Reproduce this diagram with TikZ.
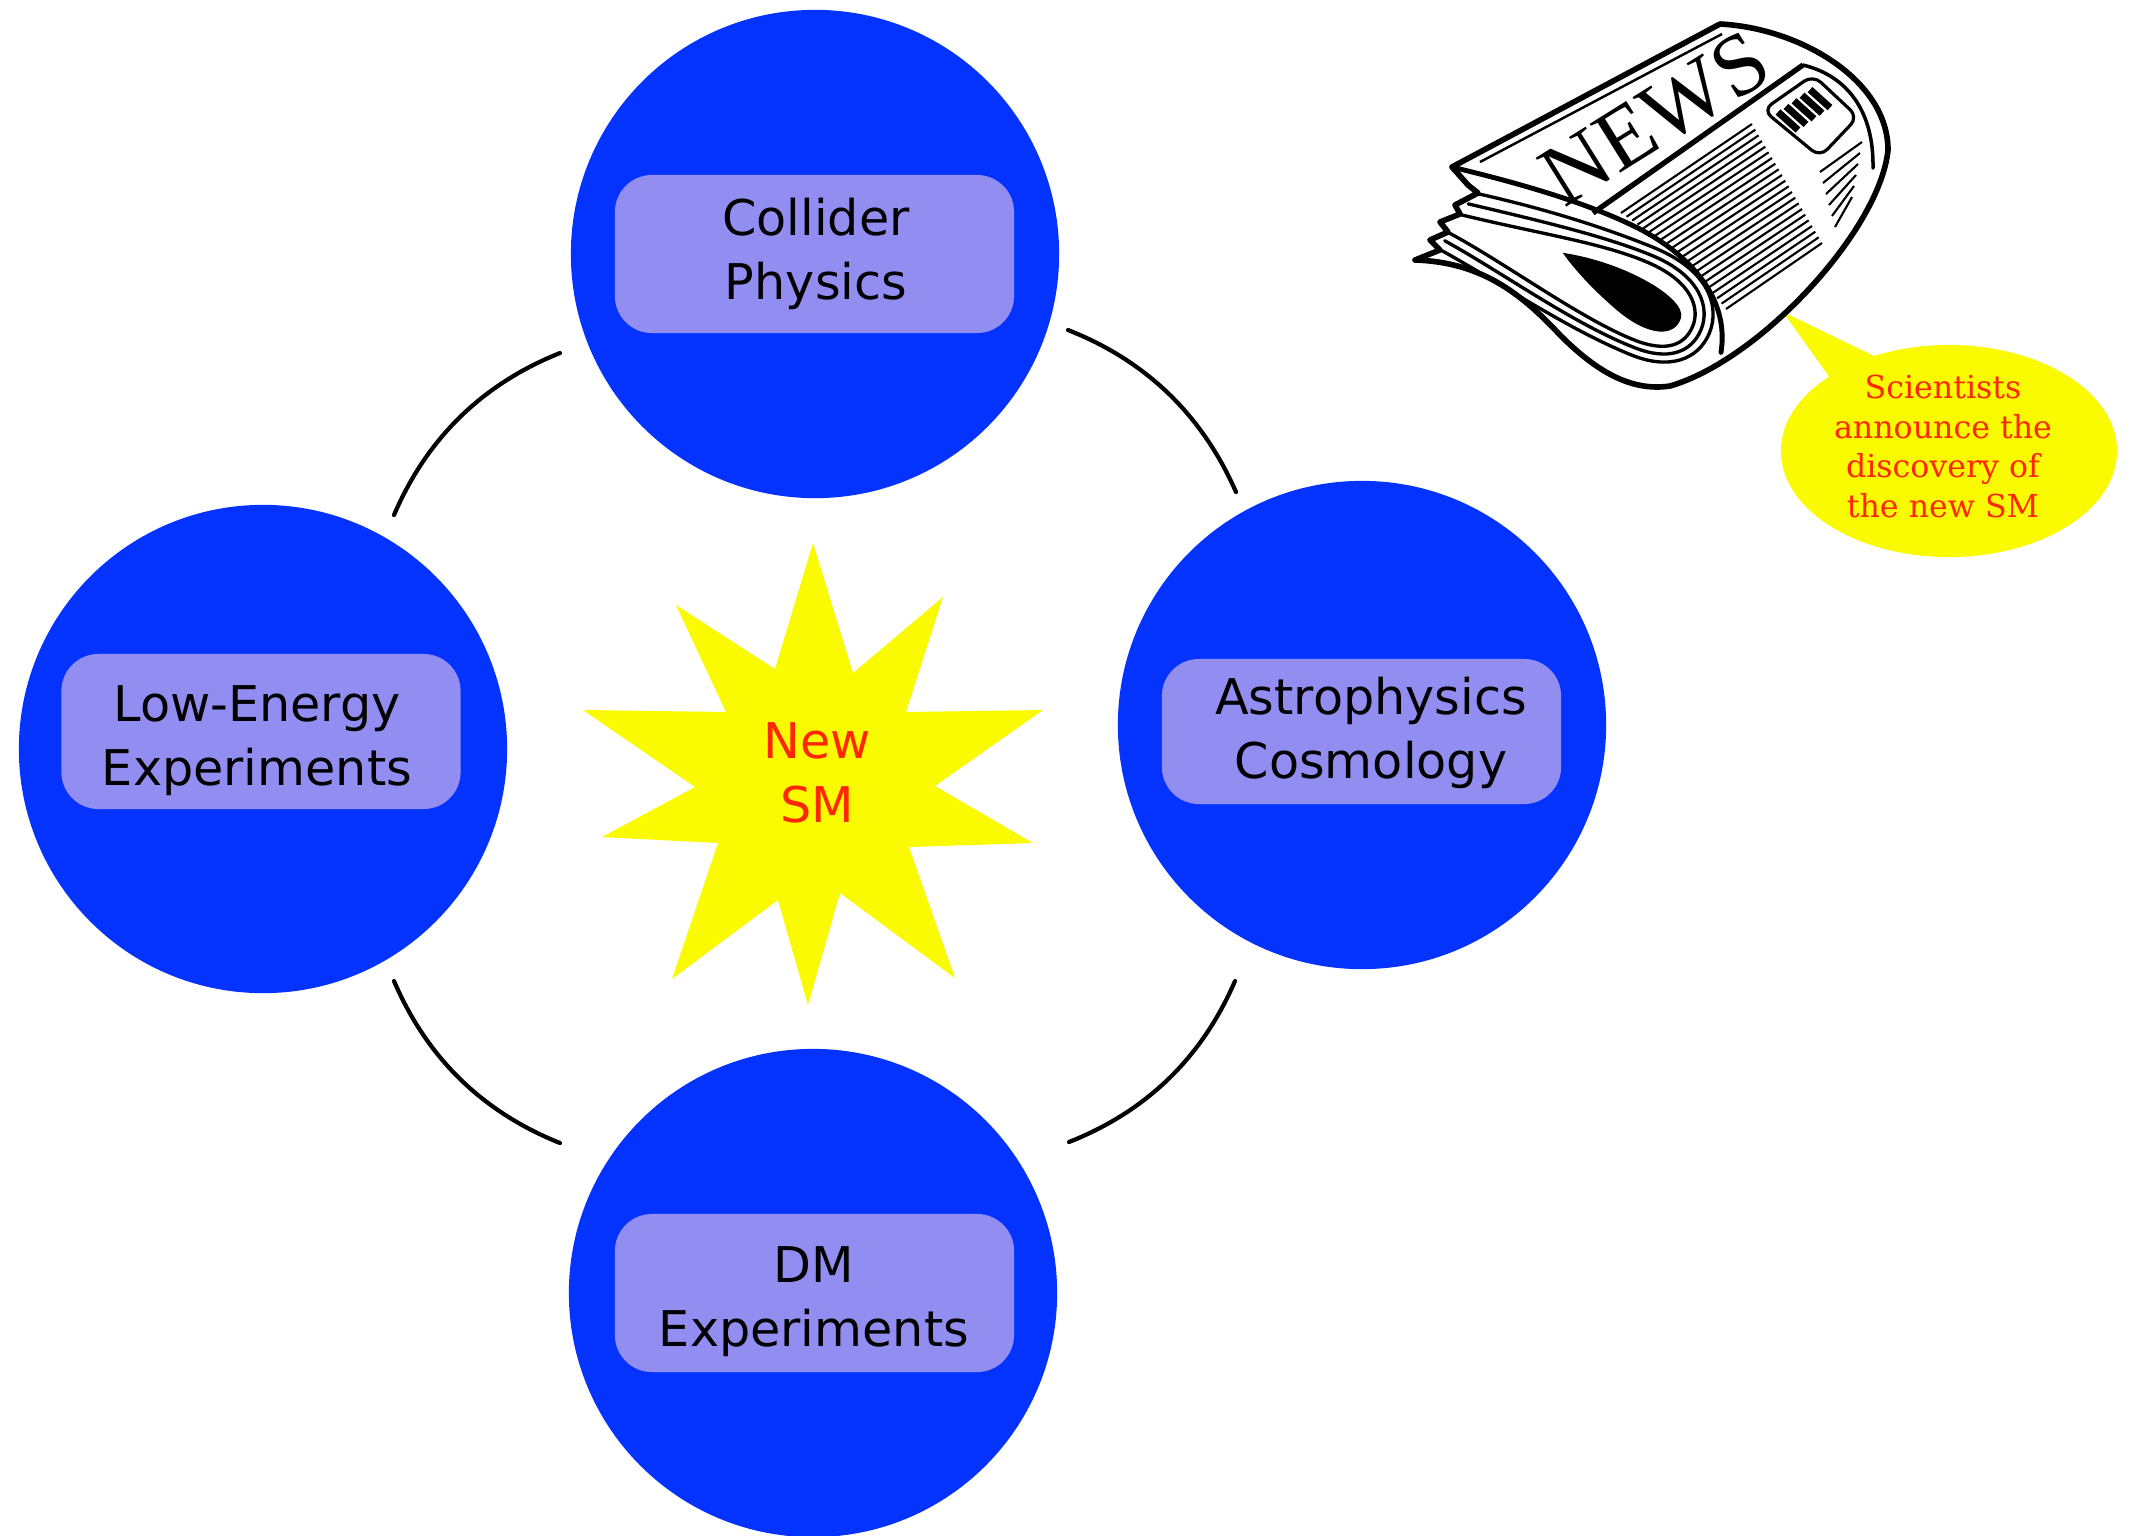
\documentclass[tikz,border=0pt]{standalone}
\usepackage{fontspec}
\setmainfont{DejaVu Sans}
\newfontfamily\bubblefont{DejaVu Serif}
\newfontfamily\mastfont{Liberation Serif}
\definecolor{discblue}{RGB}{4,51,255}
\definecolor{tagfill}{RGB}{146,141,240}
\definecolor{burst}{RGB}{250,250,0}
\definecolor{alert}{RGB}{255,38,0}

\begin{document}
\begin{tikzpicture}[x=0.01cm,y=-0.01cm,
  disc/.style={circle,fill=discblue,draw=none,minimum size=4.88cm,inner sep=0pt},
  tag/.style={rectangle,rounded corners=0.37cm,fill=tagfill,draw=none,minimum width=3.99cm,inner sep=0pt},
  tagtext/.style={font=\fontsize{14}{18.4}\selectfont,align=center,inner sep=0pt,text=black},
  bursttext/.style={font=\fontsize{14}{18.4}\selectfont,align=center,inner sep=0pt,text=alert},
  bubbletext/.style={font=\bubblefont\fontsize{9}{11.34}\selectfont,align=center,inner sep=0pt,text=alert},
  link/.style={line width=1.2pt,line cap=round},
  hatch/.style={line width=0.6pt},
  fold/.style={line width=0.95pt,line cap=round,line join=round}]

\useasboundingbox (0,0) rectangle (2135,1535);

% four research areas
\node[disc] (top) at (815,254) {};
\node[disc] (left) at (263,749) {};
\node[disc] (right) at (1362,725) {};
\node[disc] (bottom) at (813,1293) {};

\node[tag,minimum height=1.58cm] (topbox) at (814.5,254) {};
\node[tag,minimum height=1.55cm] (leftbox) at (261,731.5) {};
\node[tag,minimum height=1.45cm] (rightbox) at (1361.5,731.5) {};
\node[tag,minimum height=1.58cm] (bottombox) at (814.5,1293) {};

\node[tagtext] (toptext) at (816,254.5) {\strut Collider\\\strut Physics};
\node[tagtext] (lefttext) at (257,740.5) {\strut Low-Energy\\\strut Experiments};
\node[tagtext] (righttext) at (1371,733.5) {\strut Astrophysics\\\strut Cosmology};
\node[tagtext] (bottomtext) at (814,1301.5) {\strut DM\\\strut Experiments};

% arcs between the areas
\coordinate (tla) at (560,353);  \coordinate (tlb) at (394,515);
\coordinate (tra) at (1068,330); \coordinate (trb) at (1236,492);
\coordinate (bla) at (394,981);  \coordinate (blb) at (560,1143);
\coordinate (bra) at (1235,981); \coordinate (brb) at (1069,1142);
\draw[link] (tla) .. controls (482.3,384.1) and (427,438.1) .. (tlb);
\draw[link] (tra) .. controls (1146,360.7) and (1202,414.7) .. (trb);
\draw[link] (bla) .. controls (427,1057.9) and (482.3,1111.9) .. (blb);
\draw[link] (bra) .. controls (1201.9,1057.7) and (1146.6,1111.3) .. (brb);

% central burst
\fill[burst] (813,543) -- (853,673) -- (943,597) -- (906,712) -- (1043,710)
  -- (935,786) -- (1033,843) -- (909,847) -- (955,978) -- (840,893)
  -- (808,1005) -- (778,900) -- (672,979) -- (718,843) -- (602,837)
  -- (695,787) -- (583,710) -- (726,712) -- (676,605) -- (775,669) -- cycle;
\node[bursttext] (newsm) at (817,777.5) {\strut New\\\strut SM};

% speech bubble
\fill[burst] (1783,312) -- (1850.5,406.5) -- (1898.7,367.9) -- cycle;
\fill[burst] (1949,451) ellipse [x radius=1.68cm, y radius=1.06cm];
\node[bubbletext] (announce) at (1943,450)
  {\strut Scientists\\\strut announce the\\\strut discovery of\\\strut the new SM};

% folded newspaper
\filldraw[fill=white,draw=black,line width=1.6pt,line join=round]
  (1452,167) -- (1720,24) .. controls (1800,28) and (1888,80) .. (1888,150)
  .. controls (1880,230) and (1760,360) .. (1670,386)
  .. controls (1630,392) and (1595,370) .. (1560,335)
  .. controls (1520,292) and (1480,262) .. (1415,260)
  -- (1440,250) -- (1430,240) -- (1448,232) -- (1440,222) -- (1460,214)
  -- (1455,205) -- (1478,193) -- (1468,185) -- cycle;

% inner edge of the curled page
\draw[line width=1pt,line cap=round] (1803,65) .. controls (1848,76) and (1874,112) .. (1873,168);

% ruled text columns
\foreach \i in {0,...,21}{
  \pgfmathsetmacro\hp{\i/21}
  \pgfmathsetmacro\sx{(1-\hp)^2*1621+2*\hp*(1-\hp)*1680+\hp^2*1726}
  \pgfmathsetmacro\sy{(1-\hp)^2*213+2*\hp*(1-\hp)*252+\hp^2*309}
  \pgfmathsetmacro\ex{1752+70*\hp}
  \pgfmathsetmacro\ey{124+119*\hp}
  \draw[hatch] (\sx,\sy) -- (\ex,\ey);
}
\foreach \i in {0,...,5}
  \draw[hatch] (1820+3*\i,172+11*\i) -- (1862-2*\i,142+11*\i);

% photo box
\draw[line width=0.9pt,rounded corners=3pt] (1763,110) -- (1813,75) -- (1858,117) -- (1820,157) -- cycle;
\foreach \i in {0,...,4}
  \draw[line width=2pt] (1778+8*\i,112-5.6*\i) -- (1798+8*\i,130-5.6*\i);

% masthead
\draw[line width=0.7pt] (1480,162) -- (1722,34);
\draw[line width=1.5pt] (1593,213) -- (1803,65);
\node[rotate=32,inner sep=0pt,font=\mastfont\fontsize{25}{25}\selectfont] (masthead) at (1655,118) {NEWS};

% pages wrapped round the fold
\begin{scope}[shift={(1668,318)},rotate=-22]
  \fill (-122,-21) .. controls (-60,-36) and (10,-25) .. (12,-5)
    .. controls (14,15) and (-10,25) .. (-50,12)
    .. controls (-80,2) and (-105,-10) .. cycle;
  \draw[fold] (-232,-18) .. controls (-150,-30) and (-90,-45) .. (-40,-44)
    .. controls (10,-43) and (26,-20) .. (26,-2)
    .. controls (26,20) and (10,32) .. (-20,33)
    .. controls (-80,34) and (-170,10) .. (-236,3);
  \draw[fold] (-228,-31) .. controls (-150,-43) and (-90,-52) .. (-40,-52)
    .. controls (15,-52) and (35,-25) .. (35,-2)
    .. controls (35,24) and (15,40) .. (-20,40)
    .. controls (-85,41) and (-170,20) .. (-236,12);
  \draw[fold] (-223,-44) .. controls (-150,-56) and (-90,-60) .. (-40,-60)
    .. controls (20,-60) and (44,-30) .. (44,-2)
    .. controls (44,28) and (20,48) .. (-20,48)
    .. controls (-90,48) and (-170,30) .. (-237,22);
  \draw[fold,line width=1.4pt] (-257,-59) .. controls (-170,-72) and (-110,-76) .. (-60,-72)
    .. controls (0,-66) and (50,-40) .. (62,12);
\end{scope}

\end{tikzpicture}
\end{document}
